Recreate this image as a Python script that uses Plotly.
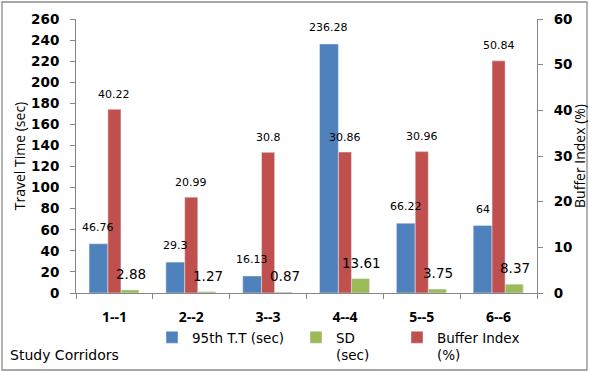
import plotly.graph_objects as go

categories = ["1--1", "2--2", "3--3", "4--4", "5--5", "6--6"]
tt95 = [46.76, 29.3, 16.13, 236.28, 66.22, 64]
sd = [2.88, 1.27, 0.87, 13.61, 3.75, 8.37]
buffer_index = [40.22, 20.99, 30.8, 30.86, 30.96, 50.84]
y_ticks = list(range(0, 261, 20))
y2_ticks = list(range(0, 61, 10))

BLUE = "#4F81BD"
GREEN = "#9BBB59"
RED = "#C0504D"
AXIS = "#868686"

L, R, T, B = 76, 52, 19, 79
W, H = 589, 372
PW, PH = W - L - R, H - T - B

def px_x(p):
    return (p - L) / PW

def px_y(p):
    return (T + PH - p) / PH

fig = go.Figure()
fig.add_trace(go.Bar(x=categories, y=tt95, name="95th T.T (sec)", marker_color=BLUE,
                     width=0.245, offset=-0.33, legend="legend"))
fig.add_trace(go.Bar(x=categories, y=sd, name="SD<br>(sec)", marker_color=GREEN,
                     width=0.235, offset=0.085, legend="legend2"))
fig.add_trace(go.Bar(x=categories, y=buffer_index, name="Buffer Index<br>(%)", marker_color=RED,
                     width=0.17, offset=-0.085, yaxis="y2", legend="legend3"))

annotations = []
for c, v in zip(categories, tt95):
    annotations.append(dict(x=c, y=v, xref="x", yref="y", text=str(v), showarrow=False,
                            xshift=(-0.33 + 0.245 / 2) * PW / 6, yshift=16.5,
                            font=dict(family="DejaVu Sans", size=11, color="#000")))
for c, v in zip(categories, sd):
    annotations.append(dict(x=c, y=v, xref="x", yref="y", text=str(v), showarrow=False,
                            xshift=(0.085 + 0.235 / 2) * PW / 6 + 1, yshift=16,
                            font=dict(family="DejaVu Sans", size=13.5, color="#000")))
for c, v in zip(categories, buffer_index):
    annotations.append(dict(x=c, y=v, xref="x", yref="y2", text=str(v), showarrow=False,
                            xshift=0, yshift=15,
                            font=dict(family="DejaVu Sans", size=11, color="#000")))

annotations.append(dict(text="Study Corridors", xref="paper", yref="paper", x=px_x(8), y=px_y(355),
                        xanchor="left", yanchor="middle", showarrow=False,
                        font=dict(family="DejaVu Sans", size=14, color="#000")))
annotations.append(dict(text="Buffer Index (%)", xref="paper", yref="paper", x=px_x(579), y=0.5,
                        xanchor="center", yanchor="middle", textangle=-90, showarrow=False,
                        font=dict(family="Open Sans", size=14, color="#000")))

leg_font = dict(family="DejaVu Sans", size=13.5, color="#000")
legend_common = dict(orientation="h", yanchor="top", xanchor="left", font=leg_font,
                     bgcolor="rgba(0,0,0,0)", borderwidth=0, itemwidth=30, valign="top")

fig.update_layout(
    width=W, height=H,
    margin=dict(l=L, r=R, t=T, b=B, autoexpand=False),
    paper_bgcolor="white", plot_bgcolor="white",
    barmode="overlay",
    showlegend=True,
    legend=dict(x=px_x(152), y=px_y(322), **legend_common),
    legend2=dict(x=px_x(296), y=px_y(322), **legend_common),
    legend3=dict(x=px_x(397), y=px_y(322), **legend_common),
    xaxis=dict(type="category", categoryorder="array", categoryarray=categories,
               showline=True, linecolor=AXIS, linewidth=1, ticks="outside", tickson="boundaries",
               ticklen=5, tickcolor=AXIS, showgrid=False, zeroline=False,
               tickfont=dict(family="Open Sans", size=14, color="#000", weight="bold"),
               ticklabelstandoff=11),
    yaxis=dict(range=[0, 260], tickvals=y_ticks, showline=True, linecolor=AXIS, linewidth=1,
               ticks="outside", ticklen=5, tickcolor=AXIS, showgrid=False, zeroline=False,
               tickfont=dict(family="DejaVu Sans", size=13.5, color="#000", weight="bold"),
               ticklabelstandoff=8,
               title=dict(text="Travel Time (sec)", standoff=2,
                          font=dict(family="Open Sans", size=14, color="#000"))),
    yaxis2=dict(range=[0, 60], tickvals=y2_ticks, overlaying="y", side="right",
                showline=True, linecolor=AXIS, linewidth=1, ticks="outside", ticklen=5,
                tickcolor=AXIS, showgrid=False, zeroline=False,
                tickfont=dict(family="DejaVu Sans", size=13.5, color="#000", weight="bold"),
                ticklabelstandoff=8),
    annotations=annotations,
    shapes=[dict(type="rect", xref="paper", yref="paper", x0=px_x(2), x1=px_x(587),
                 y0=px_y(370), y1=px_y(2), line=dict(color="#8C8C8C", width=1.3),
                 fillcolor="rgba(0,0,0,0)", layer="below")],
)

fig.write_html("out.html", config={"displayModeBar": False},
               post_script="document.body.style.margin='0';document.body.style.overflow='hidden';")
